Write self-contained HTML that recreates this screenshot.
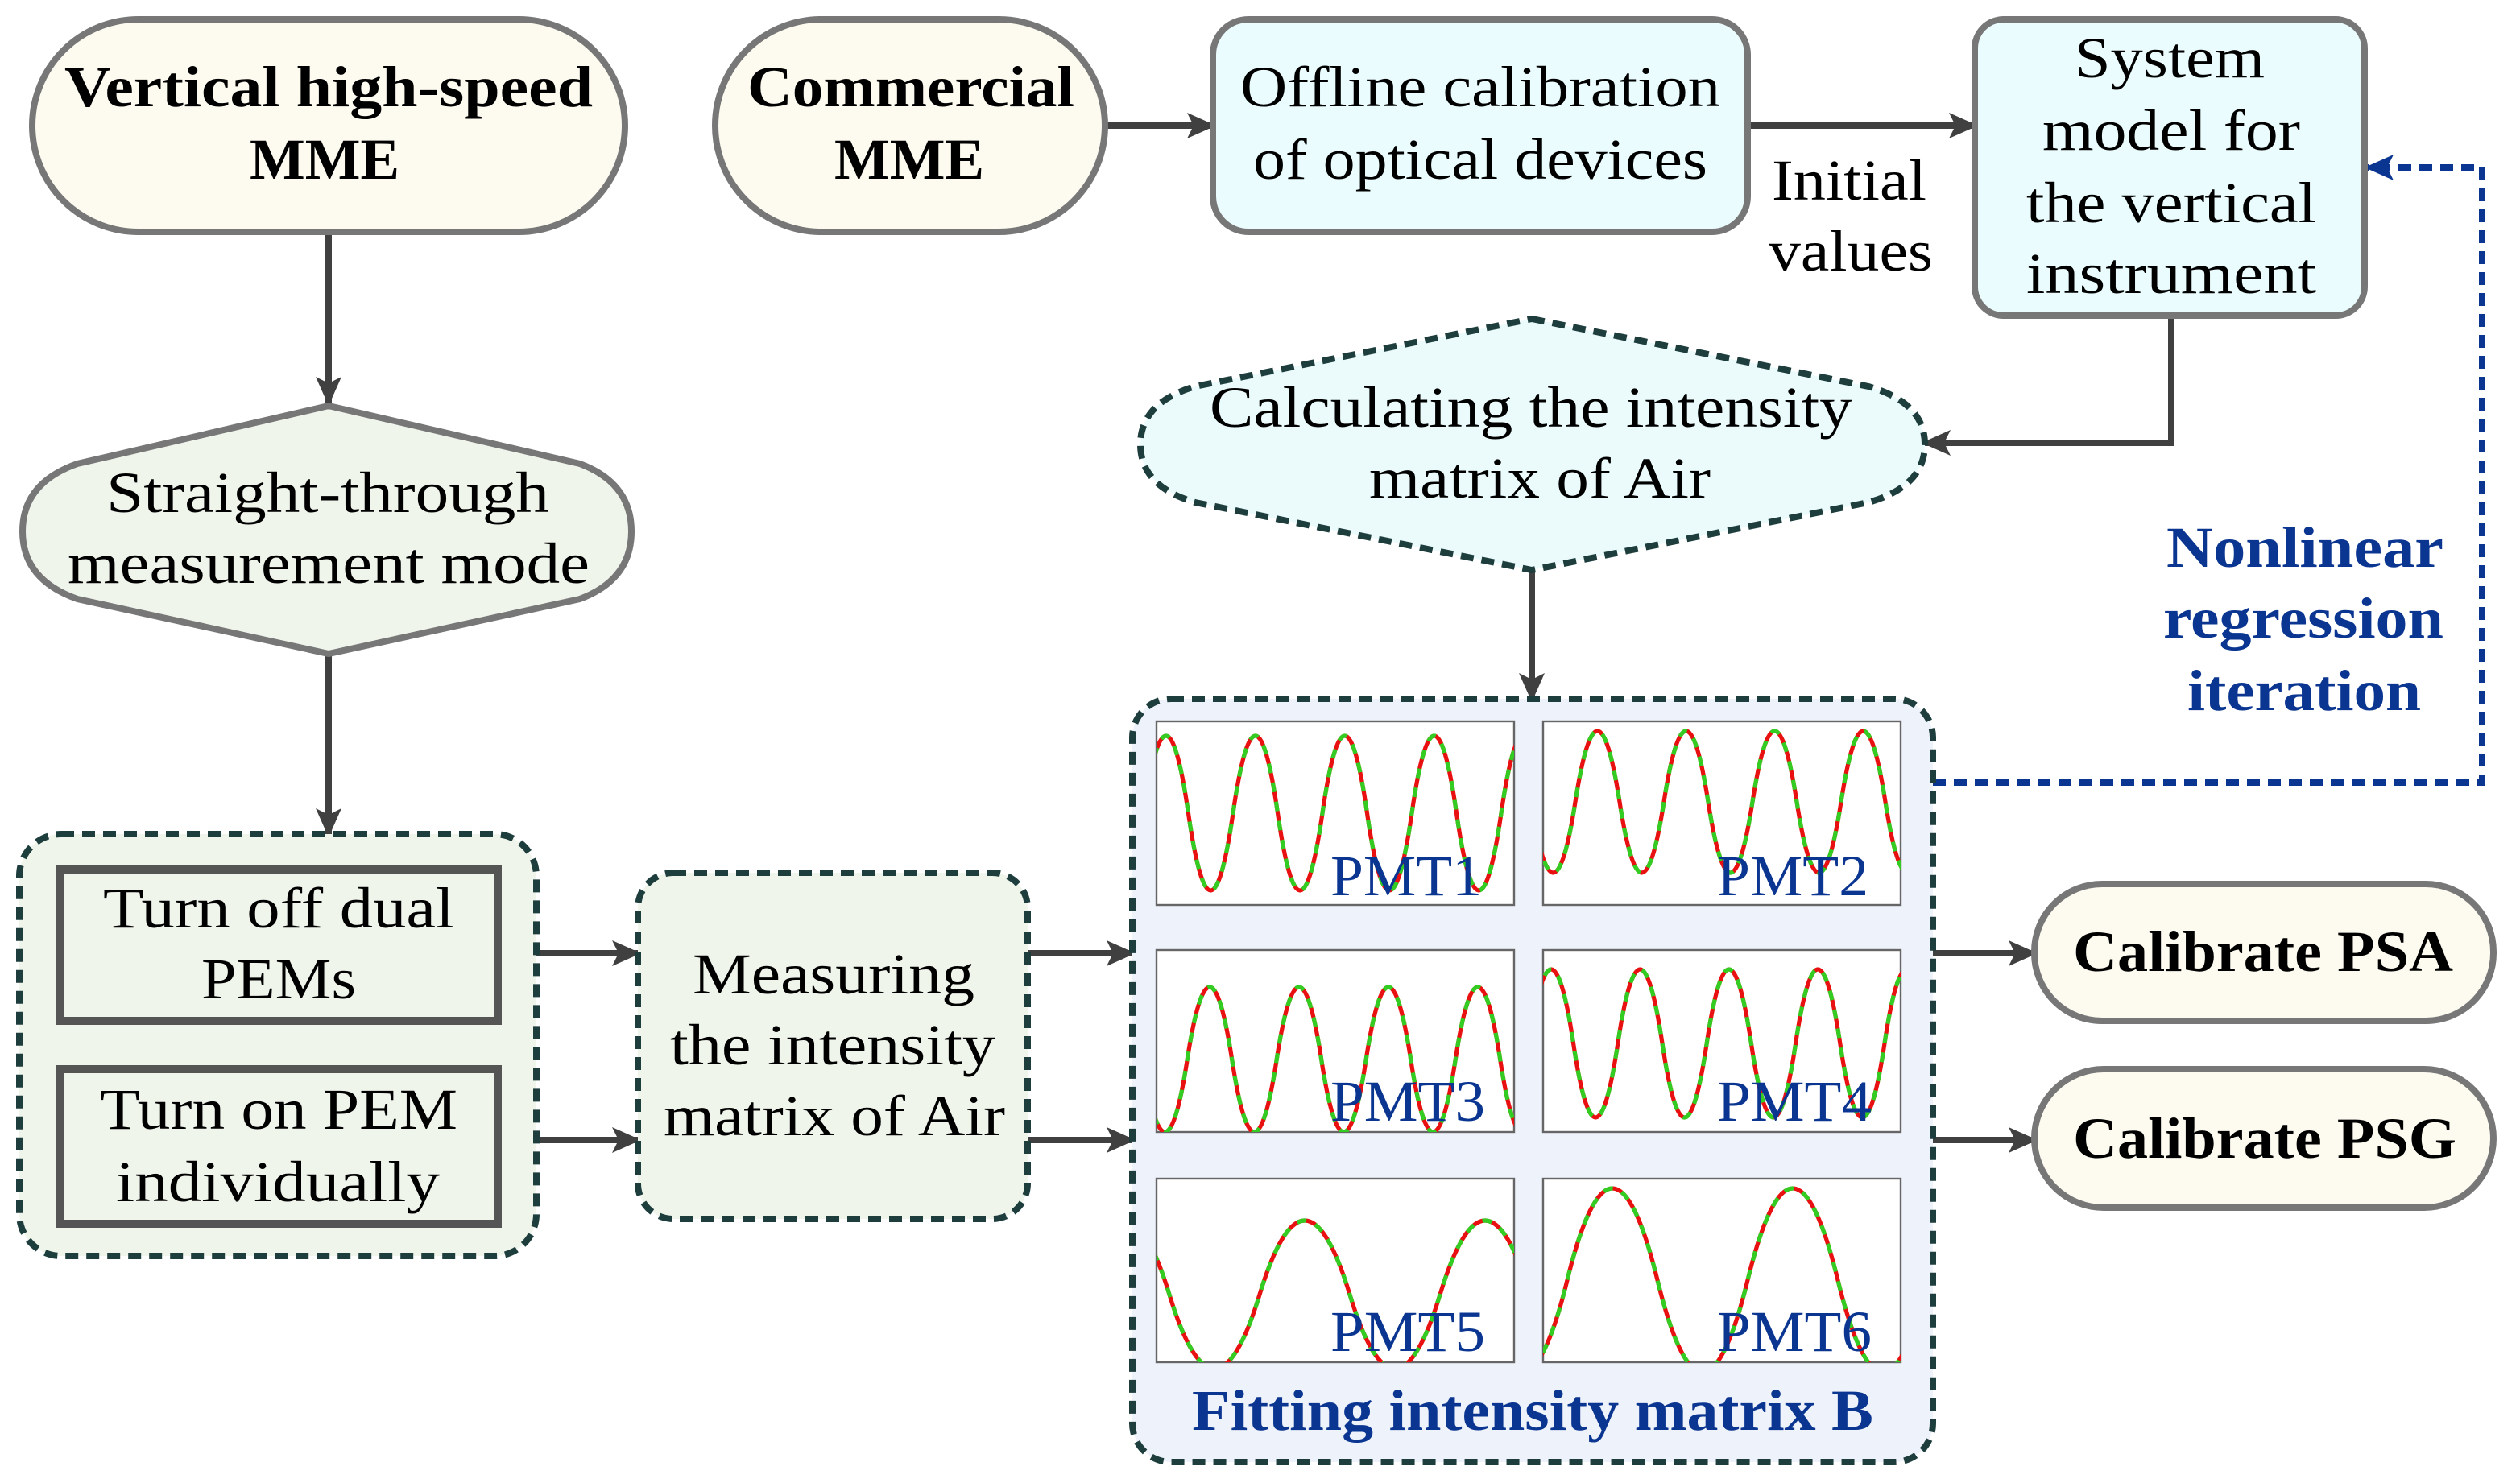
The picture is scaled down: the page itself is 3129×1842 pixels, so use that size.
<!DOCTYPE html>
<html><head><meta charset="utf-8"><style>html,body{margin:0;padding:0;background:#fff}svg{display:block}</style></head>
<body>
<svg width="3129" height="1842" viewBox="0 0 1564.5 921" xmlns="http://www.w3.org/2000/svg" font-family="'Liberation Serif', serif">
<defs>
<marker id="ah" markerWidth="18" markerHeight="16" refX="16" refY="8" orient="auto" markerUnits="userSpaceOnUse"><path d="M0,0 L18,8 L0,16 L4,8 Z" fill="#404040"/></marker>
<marker id="ab" markerWidth="18" markerHeight="16" refX="16" refY="8" orient="auto" markerUnits="userSpaceOnUse"><path d="M0,0 L18,8 L0,16 L4,8 Z" fill="#0a3590"/></marker>
<clipPath id="c1"><rect x="718" y="448" width="222" height="114"/></clipPath>
<clipPath id="c2"><rect x="958" y="448" width="222" height="114"/></clipPath>
<clipPath id="c3"><rect x="718" y="590" width="222" height="113"/></clipPath>
<clipPath id="c4"><rect x="958" y="590" width="222" height="113"/></clipPath>
<clipPath id="c5"><rect x="718" y="732" width="222" height="114"/></clipPath>
<clipPath id="c6"><rect x="958" y="732" width="222" height="114"/></clipPath>
</defs>

<g stroke="#404040" stroke-width="4" fill="none" marker-end="url(#ah)">
<line x1="204" y1="144" x2="204" y2="250"/>
<line x1="204" y1="406" x2="204" y2="518"/>
<line x1="686" y1="78" x2="753" y2="78"/>
<line x1="1085" y1="78" x2="1226" y2="78"/>
<polyline points="1348,196 1348,275 1195,275"/>
<line x1="951" y1="354" x2="951" y2="434"/>
<line x1="309" y1="592" x2="396" y2="592"/>
<line x1="309" y1="708" x2="396" y2="708"/>
<line x1="638" y1="592" x2="703" y2="592"/>
<line x1="638" y1="708" x2="703" y2="708"/>
<line x1="1200" y1="592" x2="1263" y2="592"/>
<line x1="1200" y1="708" x2="1263" y2="708"/>
</g>
<polyline points="1200,486 1541,486 1541,104 1470,104" stroke="#0a3590" stroke-width="4" stroke-dasharray="8,5" fill="none" marker-end="url(#ab)"/>

<rect x="20" y="12" width="368" height="132" rx="66" fill="#fdfaf0" stroke="#777" stroke-width="4"/>
<rect x="444" y="12" width="242" height="132" rx="66" fill="#fdfaf0" stroke="#777" stroke-width="4"/>
<rect x="753" y="12" width="332" height="132" rx="22" fill="#eafcfd" stroke="#777" stroke-width="4"/>
<rect x="1226" y="12" width="242" height="184" rx="18" fill="#eafcfd" stroke="#777" stroke-width="4"/>
<path d="M951,198 L1160,240 Q1195,250 1195,276 Q1195,302 1160,312 L951,354 L742,312 Q708,302 708,276 Q708,250 742,240 Z" fill="#ebfbfc" stroke="#1e3d3d" stroke-width="4" stroke-dasharray="8,5"/>
<path d="M204,252 L360,288 Q392,300 392,330 Q392,360 360,372 L204,406 L48,372 Q14,360 14,330 Q14,300 48,288 Z" fill="#f0f5ec" stroke="#777" stroke-width="4"/>
<rect x="12" y="518" width="321" height="262" rx="26" fill="#f0f5ec" stroke="#1e3d3d" stroke-width="4" stroke-dasharray="8,5"/>
<rect x="37" y="540" width="272" height="94" fill="#f0f5ec" stroke="#555" stroke-width="5"/>
<rect x="37" y="664" width="272" height="96" fill="#f0f5ec" stroke="#555" stroke-width="5"/>
<rect x="396" y="542" width="242" height="215" rx="22" fill="#f0f5ec" stroke="#1e3d3d" stroke-width="4" stroke-dasharray="8,5"/>
<rect x="703" y="434" width="497" height="474" rx="24" fill="#eef2fa" stroke="#1e3d3d" stroke-width="4" stroke-dasharray="8,5"/>
<rect x="1263" y="549" width="285" height="85" rx="42" fill="#fdfaf0" stroke="#777" stroke-width="4"/>
<rect x="1263" y="664" width="285" height="86" rx="43" fill="#fdfaf0" stroke="#777" stroke-width="4"/>

<g fill="#fff" stroke="#666" stroke-width="1.2">
<rect x="718" y="448" width="222" height="114"/><rect x="958" y="448" width="222" height="114"/>
<rect x="718" y="590" width="222" height="113"/><rect x="958" y="590" width="222" height="113"/>
<rect x="718" y="732" width="222" height="114"/><rect x="958" y="732" width="222" height="114"/>
</g>
<g fill="none" stroke-width="2.6">
<g clip-path="url(#c1)"><path d="M654.5,505 Q668.4,409 682.25,505 T710,505 T737.75,505 T765.5,505 T793.25,505 T821,505 T848.75,505 T876.5,505 T904.25,505 T932,505 T959.75,505" stroke="#e81010"/><path d="M654.5,505 Q668.4,409 682.25,505 T710,505 T737.75,505 T765.5,505 T793.25,505 T821,505 T848.75,505 T876.5,505 T904.25,505 T932,505 T959.75,505" stroke="#33cc22" stroke-dasharray="6,6"/></g>
<g clip-path="url(#c2)"><path d="M923,498 Q936.75,410 950.5,498 T978,498 T1005.5,498 T1033,498 T1060.5,498 T1088,498 T1115.5,498 T1143,498 T1170.5,498 T1198,498" stroke="#e81010"/><path d="M923,498 Q936.75,410 950.5,498 T978,498 T1005.5,498 T1033,498 T1060.5,498 T1088,498 T1115.5,498 T1143,498 T1170.5,498 T1198,498" stroke="#33cc22" stroke-dasharray="6,6"/></g>
<g clip-path="url(#c3)"><path d="M681.6,658 Q695.5,568 709.35,658 T737.1,658 T764.85,658 T792.6,658 T820.35,658 T848.1,658 T875.85,658 T903.6,658 T931.35,658 T959.1,658" stroke="#e81010"/><path d="M681.6,658 Q695.5,568 709.35,658 T737.1,658 T764.85,658 T792.6,658 T820.35,658 T848.1,658 T875.85,658 T903.6,658 T931.35,658 T959.1,658" stroke="#33cc22" stroke-dasharray="6,6"/></g>
<g clip-path="url(#c4)"><path d="M894,648 Q907.8,556 921.6,648 T949.2,648 T976.8,648 T1004.4,648 T1032,648 T1059.6,648 T1087.2,648 T1114.8,648 T1142.4,648 T1170,648 T1197.6,648" stroke="#e81010"/><path d="M894,648 Q907.8,556 921.6,648 T949.2,648 T976.8,648 T1004.4,648 T1032,648 T1059.6,648 T1087.2,648 T1114.8,648 T1142.4,648 T1170,648 T1197.6,648" stroke="#33cc22" stroke-dasharray="6,6"/></g>
<g clip-path="url(#c5)"><path d="M670,804 Q698,712 726,804 T782,804 T838,804 T894,804 T950,804" stroke="#e81010"/><path d="M670,804 Q698,712 726,804 T782,804 T838,804 T894,804 T950,804" stroke="#33cc22" stroke-dasharray="6,6"/></g>
<g clip-path="url(#c6)"><path d="M861,795 Q889,681 917,795 T973,795 T1029,795 T1085,795 T1141,795 T1197,795" stroke="#e81010"/><path d="M861,795 Q889,681 917,795 T973,795 T1029,795 T1085,795 T1141,795 T1197,795" stroke="#33cc22" stroke-dasharray="6,6"/></g>
</g>
<g fill="#0a3590" font-size="36">
<text x="826" y="556" textLength="94" lengthAdjust="spacingAndGlyphs">PMT1</text>
<text x="1066" y="556" textLength="94" lengthAdjust="spacingAndGlyphs">PMT2</text>
<text x="826" y="696" textLength="96" lengthAdjust="spacingAndGlyphs">PMT3</text>
<text x="1066" y="696" textLength="96" lengthAdjust="spacingAndGlyphs">PMT4</text>
<text x="826" y="839" textLength="96" lengthAdjust="spacingAndGlyphs">PMT5</text>
<text x="1066" y="839" textLength="96" lengthAdjust="spacingAndGlyphs">PMT6</text>
</g>

<g font-size="36" fill="#000">
<g font-weight="bold">
<text x="40" y="66" textLength="328" lengthAdjust="spacingAndGlyphs">Vertical high-speed</text>
<text x="155" y="111" textLength="93" lengthAdjust="spacingAndGlyphs">MME</text>
<text x="464" y="66" textLength="203" lengthAdjust="spacingAndGlyphs">Commercial</text>
<text x="518" y="111" textLength="93" lengthAdjust="spacingAndGlyphs">MME</text>
<text x="1287" y="603" textLength="236" lengthAdjust="spacingAndGlyphs">Calibrate PSA</text>
<text x="1287" y="719" textLength="238" lengthAdjust="spacingAndGlyphs">Calibrate PSG</text>
</g>
<text x="770" y="66" textLength="298" lengthAdjust="spacingAndGlyphs">Offline calibration</text>
<text x="778" y="111" textLength="282" lengthAdjust="spacingAndGlyphs">of optical devices</text>
<text x="1100" y="124" textLength="96" lengthAdjust="spacingAndGlyphs">Initial</text>
<text x="1098" y="168" textLength="102" lengthAdjust="spacingAndGlyphs">values</text>
<text x="1288" y="48" textLength="118" lengthAdjust="spacingAndGlyphs">System</text>
<text x="1268" y="93" textLength="160" lengthAdjust="spacingAndGlyphs">model for</text>
<text x="1258" y="138" textLength="180" lengthAdjust="spacingAndGlyphs">the vertical</text>
<text x="1258" y="182" textLength="180" lengthAdjust="spacingAndGlyphs">instrument</text>
<text x="751" y="265" textLength="399" lengthAdjust="spacingAndGlyphs">Calculating the intensity</text>
<text x="850" y="309" textLength="212" lengthAdjust="spacingAndGlyphs">matrix of Air</text>
<text x="66" y="318" textLength="275" lengthAdjust="spacingAndGlyphs">Straight-through</text>
<text x="42" y="362" textLength="324" lengthAdjust="spacingAndGlyphs">measurement mode</text>
<text x="64" y="576" textLength="218" lengthAdjust="spacingAndGlyphs">Turn off dual</text>
<text x="125" y="620" textLength="96" lengthAdjust="spacingAndGlyphs">PEMs</text>
<text x="62" y="701" textLength="222" lengthAdjust="spacingAndGlyphs">Turn on PEM</text>
<text x="72" y="746" textLength="201" lengthAdjust="spacingAndGlyphs">individually</text>
<text x="430" y="617" textLength="175" lengthAdjust="spacingAndGlyphs">Measuring</text>
<text x="416" y="661" textLength="202" lengthAdjust="spacingAndGlyphs">the intensity</text>
<text x="412" y="705" textLength="212" lengthAdjust="spacingAndGlyphs">matrix of Air</text>
</g>
<g font-size="36" font-weight="bold" fill="#0a3590">
<text x="1345" y="352" textLength="172" lengthAdjust="spacingAndGlyphs">Nonlinear</text>
<text x="1343" y="396" textLength="174" lengthAdjust="spacingAndGlyphs">regression</text>
<text x="1358" y="441" textLength="145" lengthAdjust="spacingAndGlyphs">iteration</text>
<text x="740" y="888" textLength="423" lengthAdjust="spacingAndGlyphs">Fitting intensity matrix B</text>
</g>
</svg>
</body></html>
